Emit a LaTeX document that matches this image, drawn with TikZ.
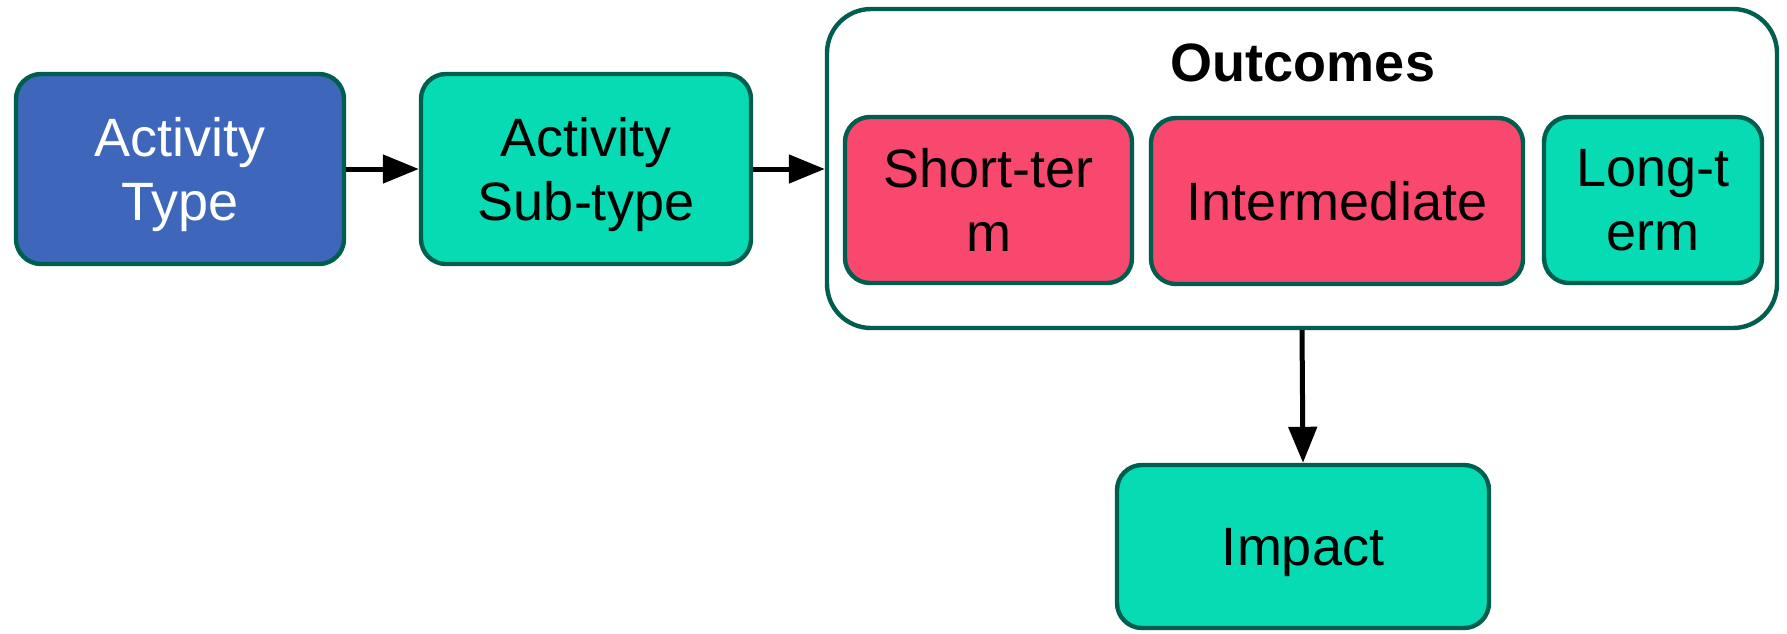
\documentclass[tikz,border=0pt]{standalone}
\usepackage{fontspec}
\setmainfont{Liberation Sans}
\usetikzlibrary{arrows.meta}

\definecolor{edgegreen}{HTML}{005E4E}
\definecolor{tealfill}{HTML}{07DBB3}
\definecolor{bluefill}{HTML}{3E66BB}
\definecolor{redfill}{HTML}{F9486D}

\tikzset{
  box/.style={draw=edgegreen, line width=2.2pt, rounded corners=12.5pt,
    inner sep=0pt, align=center, text depth=0pt,
    font=\fontsize{27}{32}\selectfont},
  tealbox/.style={box, fill=tealfill, text=black},
  bluebox/.style={box, fill=bluefill, text=white},
  redbox/.style={box, fill=redfill, text=black},
  group/.style={draw=edgegreen, line width=2.2pt, rounded corners=22pt, fill=white},
  flow/.style={line width=2.5pt, -{Triangle[length=18pt,width=14pt]}}
}

\begin{document}
\begin{tikzpicture}[x=0.5pt, y=-0.5pt]
  \useasboundingbox (0,0) rectangle (1787,633);

  % activity chain
  \node[bluebox, minimum width=164pt, minimum height=95pt] (type) at (180,169) {Activity\\Type};
  \node[tealbox, minimum width=165pt, minimum height=95pt] (subtype) at (586,169) {Activity\\Sub-type};

  % outcomes group with its three stages
  \node[group, minimum width=475pt, minimum height=159.5pt] (outcomes) at (1302,168.5) {};
  \node[font=\fontsize{27}{32}\selectfont\bfseries] (outtitle) at (1303,63) {Outcomes};
  \node[redbox, minimum width=143.5pt, minimum height=83pt] (short) at (988.5,200) {Short-ter\\m};
  \node[redbox, minimum width=186pt, minimum height=83pt] (inter) at (1337,201) {Intermediate};
  \node[tealbox, minimum width=109pt, minimum height=83pt] (long) at (1653,200) {Long-t\\erm};

  % final result
  \node[tealbox, minimum width=186pt, minimum height=81.5pt] (impact) at (1303,546.5) {Impact};

  % connectors
  \draw[flow] (type.east) -- (subtype.west);
  \draw[flow] (subtype.east) -- (subtype.east -| outcomes.west);
  \draw[flow] (outcomes.south) -- (impact.north);
\end{tikzpicture}
\end{document}
